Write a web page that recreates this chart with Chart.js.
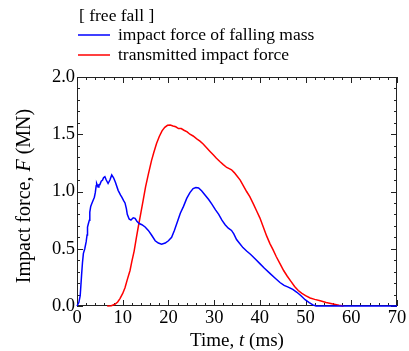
<!DOCTYPE html>
<html>
<head>
<meta charset="utf-8">
<script src="https://cdn.jsdelivr.net/npm/chart.js@4/dist/chart.umd.min.js"></script>
<style>
  html, body { margin: 0; padding: 0; background: #fff; }
  #wrap { width: 409px; height: 351px; }
</style>
</head>
<body>
<div id="wrap"><canvas id="chart" width="409" height="351"></canvas></div>
<script>
// time (ms) and force (MN)
const blueT = [0, 0.4, 0.7, 1.0, 1.2, 1.4, 1.7, 2.0, 2.2, 2.3, 2.5, 2.7, 2.8, 3.0, 3.2, 3.4, 3.6, 3.8, 4.0, 4.2, 4.3,
  4.6, 4.8, 5.0, 5.3, 5.6, 5.8, 6.1, 6.4, 6.8, 7.2, 7.6, 8.0, 8.4, 9.0, 9.5, 9.8, 10.2, 10.5, 10.8, 11.0, 11.4,
  11.8, 12.3, 12.7, 13.1, 13.6, 14.2, 14.9, 15.6, 16.3, 17.1, 17.8, 18.5, 19.3, 20.0, 20.7, 21.3, 22.0, 22.6,
  23.3, 24.0, 24.7, 25.4, 26.0, 26.6, 27.3, 28.0, 28.8, 29.5, 30.3, 31.0, 31.7, 32.4, 33.1, 33.8, 34.3, 34.9,
  35.5, 36.3, 37.1, 38.0, 39.0, 40.0, 41.0, 42.2, 43.3, 44.4, 45.3, 46.2, 47.2, 48.1, 49.0, 49.9, 50.8, 51.6,
  52.3, 55, 60, 65, 70];
const blueF = [0, 0.03, 0.09, 0.27, 0.38, 0.46, 0.50, 0.56, 0.62, 0.69, 0.72, 0.75, 0.82, 0.87, 0.89, 0.91, 0.93,
  0.95, 0.99, 1.05, 1.07, 1.04, 1.06, 1.06, 1.09, 1.10, 1.12, 1.13, 1.10, 1.07, 1.10, 1.145, 1.12, 1.08, 1.01,
  0.97, 0.95, 0.92, 0.90, 0.85, 0.80, 0.76, 0.75, 0.77, 0.765, 0.74, 0.72, 0.71, 0.69, 0.66, 0.62, 0.57, 0.55,
  0.54, 0.55, 0.57, 0.60, 0.66, 0.74, 0.81, 0.87, 0.94, 0.99, 1.025, 1.035, 1.03, 1.005, 0.97, 0.93, 0.89, 0.84,
  0.80, 0.75, 0.71, 0.68, 0.66, 0.63, 0.58, 0.55, 0.51, 0.48, 0.45, 0.41, 0.37, 0.33, 0.285, 0.245, 0.205, 0.18,
  0.165, 0.145, 0.12, 0.09, 0.055, 0.03, 0.01, 0, 0, 0, 0, 0];

const redT = [6.6, 7.5, 8.3, 8.9, 9.4, 10.0, 10.5, 11.0, 11.6, 12.0, 12.5, 13.0, 13.4, 14.0, 14.5, 15.0, 15.6, 16.3,
  16.8, 17.4, 18.0, 18.6, 19.2, 19.8, 20.4, 21.0, 21.6, 22.2, 22.8, 23.4, 24.1, 24.7, 25.4, 26.2, 26.9, 27.6,
  28.4, 29.1, 29.8, 30.5, 31.3, 32.0, 32.75, 33.3, 33.8, 34.4, 35.0, 35.7, 36.4, 37.1, 37.8, 38.6, 39.3, 40.0,
  40.75, 41.5, 42.2, 42.9, 43.6, 44.4, 45.2, 46.0, 46.8, 47.6, 48.4, 49.2, 50.0, 51.0, 52.0, 53.2, 54.5, 56.0,
  57.3, 58.3];
const redF = [0, 0.003, 0.015, 0.035, 0.065, 0.11, 0.16, 0.23, 0.31, 0.39, 0.48, 0.60, 0.69, 0.82, 0.93, 1.04, 1.15,
  1.27, 1.34, 1.42, 1.48, 1.53, 1.56, 1.578, 1.58, 1.572, 1.565, 1.55, 1.55, 1.535, 1.52, 1.50, 1.485, 1.46,
  1.44, 1.415, 1.38, 1.35, 1.32, 1.29, 1.26, 1.235, 1.21, 1.20, 1.19, 1.165, 1.135, 1.10, 1.05, 1.00, 0.955,
  0.89, 0.83, 0.77, 0.69, 0.61, 0.545, 0.49, 0.43, 0.37, 0.31, 0.26, 0.215, 0.17, 0.135, 0.11, 0.09, 0.07,
  0.058, 0.045, 0.03, 0.017, 0.006, 0];

const seriesLabels = ["impact force of falling mass", "transmitted impact force"];
const legendTitle = "[ free fall ]";
const xTitle = [["Time, ", false], ["t", true], [" (ms)", false]];
const yTitle = [["Impact force, ", false], ["F", true], [" (MN)", false]];

const SERIF = "'Liberation Serif', 'Times New Roman', serif";

function pts(ts, fs) {
  return ts.map((t, i) => ({ x: t, y: fs[i] }));
}

function drawMixed(ctx, parts, size) {
  let w = 0;
  parts.forEach(p => {
    ctx.font = (p[1] ? "italic " : "") + size + "px " + SERIF;
    w += ctx.measureText(p[0]).width;
  });
  let x = -w / 2;
  parts.forEach(p => {
    ctx.font = (p[1] ? "italic " : "") + size + "px " + SERIF;
    ctx.fillText(p[0], x, 0);
    x += ctx.measureText(p[0]).width;
  });
}

// box, inward ticks, legend and axis titles
const framePlugin = {
  id: "frame",
  beforeDatasetsDraw(chart) {
    const ctx = chart.ctx;
    const a = chart.chartArea;
    const xs = chart.scales.x, ys = chart.scales.y;
    ctx.save();
    ctx.strokeStyle = "#222";
    ctx.lineWidth = 1;
    ctx.strokeRect(a.left + 0.5, a.top + 0.5, a.right - a.left - 1, a.bottom - a.top - 1);
    ctx.beginPath();
    for (let v = 0; v <= 70; v += 2) {
      const px = Math.round(xs.getPixelForValue(v)) + 0.5;
      const len = v % 10 === 0 ? 6 : 3;
      ctx.moveTo(px, a.bottom); ctx.lineTo(px, a.bottom - len);
      ctx.moveTo(px, a.top); ctx.lineTo(px, a.top + len);
    }
    for (let i = 0; i <= 20; i++) {
      const py = Math.round(ys.getPixelForValue(i / 10)) + 0.5;
      const len = i % 5 === 0 ? 6 : 3;
      ctx.moveTo(a.left, py); ctx.lineTo(a.left + len, py);
      ctx.moveTo(a.right, py); ctx.lineTo(a.right - len, py);
    }
    ctx.stroke();
    ctx.restore();
  },
  afterDraw(chart) {
    const ctx = chart.ctx;
    const a = chart.chartArea;
    ctx.save();
    ctx.fillStyle = "#000";
    ctx.textBaseline = "alphabetic";
    ctx.textAlign = "left";
    ctx.font = "17.5px " + SERIF;
    ctx.fillText(legendTitle, 79, 21);
    chart.data.datasets.forEach((ds, i) => {
      const y = 35 + i * 20;
      ctx.strokeStyle = ds.borderColor;
      ctx.lineWidth = 1.5;
      ctx.beginPath();
      ctx.moveTo(78, y); ctx.lineTo(110, y);
      ctx.stroke();
      ctx.fillText(ds.label, 118, y + 5);
    });

    ctx.save();
    ctx.translate((a.left + a.right) / 2, 346);
    drawMixed(ctx, xTitle, 19);
    ctx.restore();

    ctx.save();
    ctx.translate(30, 196);
    ctx.rotate(-Math.PI / 2);
    drawMixed(ctx, yTitle, 20);
    ctx.restore();
    ctx.restore();
  }
};

new Chart(document.getElementById("chart"), {
  type: "line",
  data: {
    datasets: [
      { label: seriesLabels[0], data: pts(blueT, blueF), borderColor: "#0000ff", borderWidth: 1.5,
        pointRadius: 0, tension: 0, fill: false, clip: 4 },
      { label: seriesLabels[1], data: pts(redT, redF), borderColor: "#ff0000", borderWidth: 1.5,
        pointRadius: 0, tension: 0, fill: false, clip: 4 }
    ]
  },
  options: {
    responsive: false,
    animation: false,
    events: [],
    layout: { padding: { top: 77, right: 12, left: 0, bottom: 0 } },
    plugins: {
      legend: { display: false },
      tooltip: { enabled: false },
      title: { display: false }
    },
    scales: {
      x: {
        type: "linear",
        min: 0,
        max: 70,
        grid: { display: false, drawTicks: false },
        border: { display: false },
        ticks: {
          stepSize: 10,
          color: "#000",
          padding: 1,
          maxRotation: 0,
          font: { family: SERIF, size: 18.5 }
        },
        afterFit(scale) { scale.height = 45; }
      },
      y: {
        min: 0,
        max: 2,
        grid: { display: false, drawTicks: false },
        border: { display: false },
        ticks: {
          stepSize: 0.5,
          color: "#000",
          padding: 2,
          font: { family: SERIF, size: 18.5 },
          callback: v => v.toFixed(1)
        },
        afterFit(scale) { scale.width = 77; }
      }
    }
  },
  plugins: [framePlugin]
});
</script>
</body>
</html>
